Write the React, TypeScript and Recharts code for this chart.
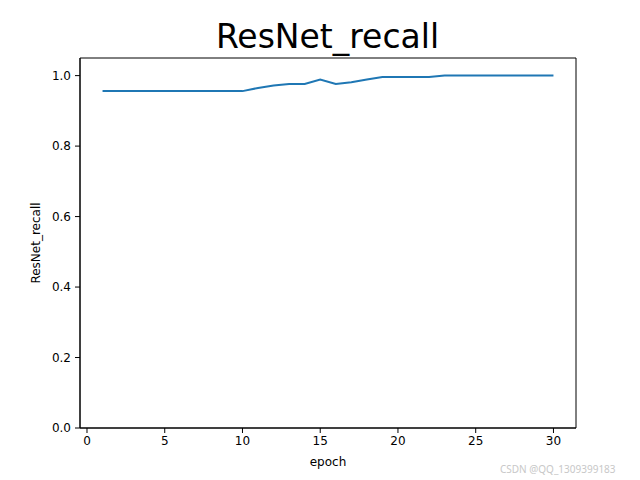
import React from "react";
import {
  LineChart,
  Line,
  XAxis,
  YAxis,
  ReferenceArea,
} from "recharts";

const epochs = [
  1, 2, 3, 4, 5, 6, 7, 8, 9, 10, 11, 12, 13, 14, 15, 16, 17, 18, 19, 20, 21,
  22, 23, 24, 25, 26, 27, 28, 29, 30,
];
const recall = [
  0.956, 0.956, 0.956, 0.956, 0.956, 0.956, 0.956, 0.956, 0.956, 0.956, 0.965,
  0.972, 0.976, 0.976, 0.989, 0.976, 0.981, 0.989, 0.996, 0.996, 0.996, 0.996,
  1.0, 1.0, 1.0, 1.0, 1.0, 1.0, 1.0, 1.0,
];
const xTicks = [0, 5, 10, 15, 20, 25, 30];
const yTicks = [0, 0.2, 0.4, 0.6, 0.8, 1.0];

const data = epochs.map((e, i) => ({ epoch: e, recall: recall[i] }));

const font = "'DejaVu Sans', sans-serif";
const tickStyle = { fill: "#000", fontSize: 12, fontFamily: font };

export default function App() {
  return (
    <div
      style={{
        position: "absolute",
        left: 0,
        top: 0,
        width: 640,
        height: 480,
        background: "#fff",
        fontFamily: font,
      }}
    >
      <div
        style={{
          position: "absolute",
          left: 0,
          top: 20,
          width: 655,
          textAlign: "center",
          fontSize: 33,
          lineHeight: 1,
          color: "#000",
        }}
      >
        ResNet_recall
      </div>
      <LineChart
        width={640}
        height={480}
        data={data}
        margin={{ top: 58, right: 64, left: 30, bottom: 9 }}
      >
        <XAxis
          dataKey="epoch"
          type="number"
          domain={[-0.45, 31.45]}
          ticks={xTicks}
          allowDataOverflow
          tick={tickStyle}
          tickSize={5}
          tickMargin={3}
          stroke="#000"
          height={43}
          label={{
            value: "epoch",
            position: "insideBottom",
            offset: 5,
            fill: "#000",
            fontSize: 12,
            fontFamily: font,
          }}
        />
        <YAxis
          type="number"
          domain={[0, 1.05]}
          ticks={yTicks}
          allowDataOverflow
          tick={tickStyle}
          tickFormatter={(v: number) => v.toFixed(1)}
          tickSize={5}
          tickMargin={4}
          stroke="#000"
          width={50}
          label={{
            value: "ResNet_recall",
            angle: -90,
            position: "insideLeft",
            offset: 6,
            fill: "#000",
            fontSize: 12,
            fontFamily: font,
            style: { textAnchor: "middle" },
          }}
        />
        <ReferenceArea
          x1={-0.45}
          x2={31.45}
          y1={0}
          y2={1.05}
          fill="none"
          stroke="#000"
          strokeWidth={1}
          fillOpacity={0}
        />
        <Line
          type="linear"
          dataKey="recall"
          stroke="#1f77b4"
          strokeWidth={2}
          dot={false}
          isAnimationActive={false}
        />
      </LineChart>
      <div
        style={{
          position: "absolute",
          left: 500,
          top: 462,
          fontSize: 10,
          color: "#c8c8c8",
          fontFamily: "'Noto Sans', sans-serif",
        }}
      >
        CSDN @QQ_1309399183
      </div>
    </div>
  );
}
